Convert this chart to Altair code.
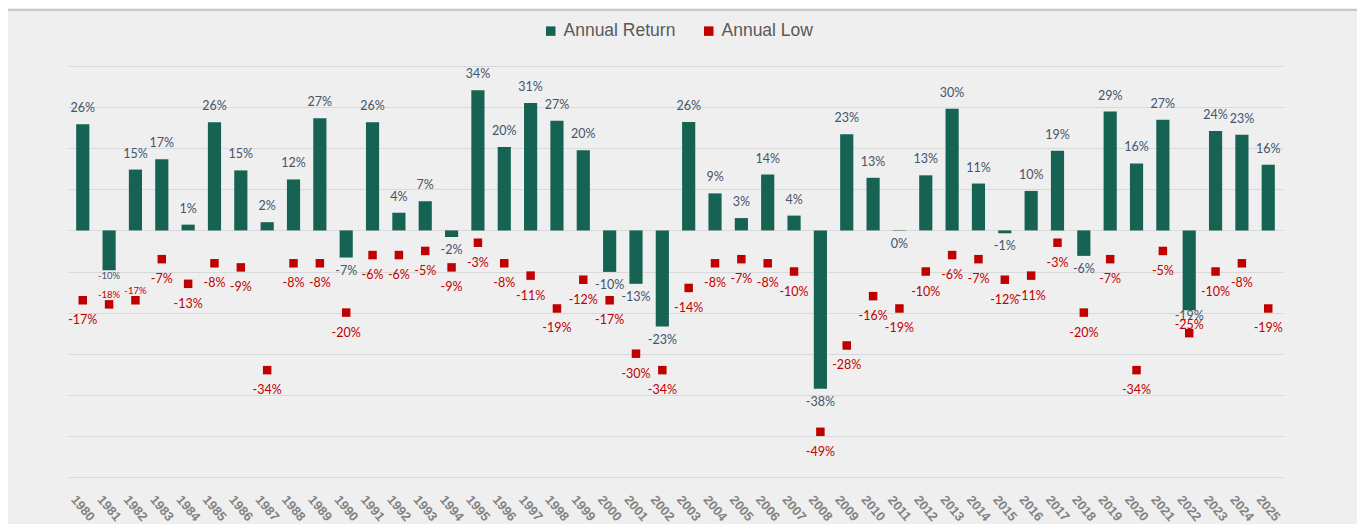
import altair as alt
import pandas as pd

years = list(range(1980, 2026))
annual_return = [25.8, -9.7, 14.8, 17.3, 1.4, 26.3, 14.6, 2.0, 12.4, 27.3,
                 -6.6, 26.3, 4.3, 7.1, -1.6, 34.1, 20.3, 31.0, 26.7, 19.5,
                 -10.1, -13.0, -23.4, 26.4, 9.0, 3.0, 13.6, 3.6, -38.5, 23.4,
                 12.8, -0.1, 13.4, 29.6, 11.4, -0.7, 9.6, 19.4, -6.2, 28.9,
                 16.3, 26.9, -19.4, 24.2, 23.3, 16.0]
annual_low = [-17, -18, -17, -7, -13, -8, -9, -34, -8, -8,
              -20, -6, -6, -5, -9, -3, -8, -11, -19, -12,
              -17, -30, -34, -14, -8, -7, -8, -10, -49, -28,
              -16, -19, -10, -6, -7, -12, -11, -3, -20, -7,
              -34, -5, -25, -10, -8, -19]
series_names = ["Annual Return", "Annual Low"]
grid_values = list(range(-60, 50, 10))

df = pd.DataFrame({"year": years, "ret": annual_return, "low": annual_low})

GREEN = "#166354"
RED = "#c00000"
LBL = "#44546a"
FS = 12.5

color_scale = alt.Scale(domain=series_names, range=[GREEN, RED])
legend = alt.Legend(
    title=None, orient="none", legendX=474, legendY=-44, direction="horizontal",
    symbolType="square", symbolSize=90, symbolStrokeWidth=0,
    labelFont="Liberation Sans", labelFontSize=17.5, labelColor="#595959",
    columnPadding=24, labelOffset=4, padding=0,
)

x_enc = alt.X(
    "year:O",
    scale=alt.Scale(paddingInner=0.5, paddingOuter=0.31),
    axis=alt.Axis(
        title=None, labelAngle=50, labelAlign="center", labelBaseline="middle",
        labelPadding=31, ticks=False, tickSize=0, domain=False, grid=False,
        labelOverlap=False, labelFont="Liberation Sans", labelFontSize=13,
        labelFontWeight="bold", labelColor="#828282",
    ),
)
y_scale = alt.Scale(domain=[-60, 40], nice=False)
y_axis = alt.Axis(
    title=None, labels=False, ticks=False, domain=False, grid=True,
    values=grid_values, gridColor="#d9d9d9", gridWidth=1,
)


def yq(field):
    return alt.Y(f"{field}:Q", scale=y_scale, axis=y_axis)


base = alt.Chart(df)

top_rule = alt.Chart(pd.DataFrame({"a": [0]})).mark_rule(
    color="#bdbdbd", strokeWidth=1.5
).encode(x=alt.value(-60), x2=alt.value(1289), y=alt.value(-56))

bars = base.transform_calculate(series="'Annual Return'").mark_bar().encode(
    x=x_enc, y=yq("ret"),
    color=alt.Color("series:N", scale=color_scale, legend=legend),
)

points = base.transform_calculate(series="'Annual Low'").mark_point(
    shape="square", filled=True, size=72, opacity=1
).encode(
    x=x_enc, y=yq("low"),
    color=alt.Color("series:N", scale=color_scale, legend=legend),
)

ret_lbl = base.transform_calculate(lbl="round(datum.ret) + '%'")
low_lbl = base.transform_calculate(lbl="round(datum.low) + '%'")

pos_text = ret_lbl.transform_filter("datum.ret >= 0").mark_text(
    font="Lato", fontSize=FS, color=LBL, baseline="alphabetic", dy=-12
).encode(x=x_enc, y=yq("ret"), text="lbl:N")

neg_text = ret_lbl.transform_filter(
    "datum.ret < 0 && datum.year != 1981 && datum.year != 2022"
).mark_text(
    font="Lato", fontSize=FS, color=LBL, baseline="alphabetic", dy=17
).encode(x=x_enc, y=yq("ret"), text="lbl:N")

neg_text_small = ret_lbl.transform_filter("datum.year == 1981").mark_text(
    font="Lato", fontSize=9.5, color=LBL, baseline="alphabetic", dy=9
).encode(x=x_enc, y=yq("ret"), text="lbl:N")

neg_text_close = ret_lbl.transform_filter("datum.year == 2022").mark_text(
    font="Lato", fontSize=FS, color=LBL, baseline="alphabetic", dy=10
).encode(x=x_enc, y=yq("ret"), text="lbl:N")

low_text = low_lbl.transform_filter(
    "datum.year != 1981 && datum.year != 1982 && datum.year != 2022"
).mark_text(
    font="Lato", fontSize=FS, color=RED, baseline="alphabetic", dy=24
).encode(x=x_enc, y=yq("low"), text="lbl:N")

low_text_small = low_lbl.transform_filter(
    "datum.year == 1981 || datum.year == 1982"
).mark_text(
    font="Lato", fontSize=9.5, color=RED, baseline="alphabetic", dy=-6
).encode(x=x_enc, y=yq("low"), text="lbl:N")

low_text_above = low_lbl.transform_filter("datum.year == 2022").mark_text(
    font="Lato", fontSize=FS, color=RED, baseline="alphabetic", dy=-4
).encode(x=x_enc, y=yq("low"), text="lbl:N")

chart = alt.layer(
    top_rule, bars, points, pos_text, neg_text, neg_text_small, neg_text_close,
    low_text, low_text_small, low_text_above,
).properties(
    width=1215, height=411,
    autosize=alt.AutoSizeParams(type="none"),
    padding={"left": 60, "top": 58, "right": 74, "bottom": 47},
    background="#efefef",
).configure_view(stroke=None)

chart.save("out.html", embed_options={"renderer": "svg", "actions": False})
